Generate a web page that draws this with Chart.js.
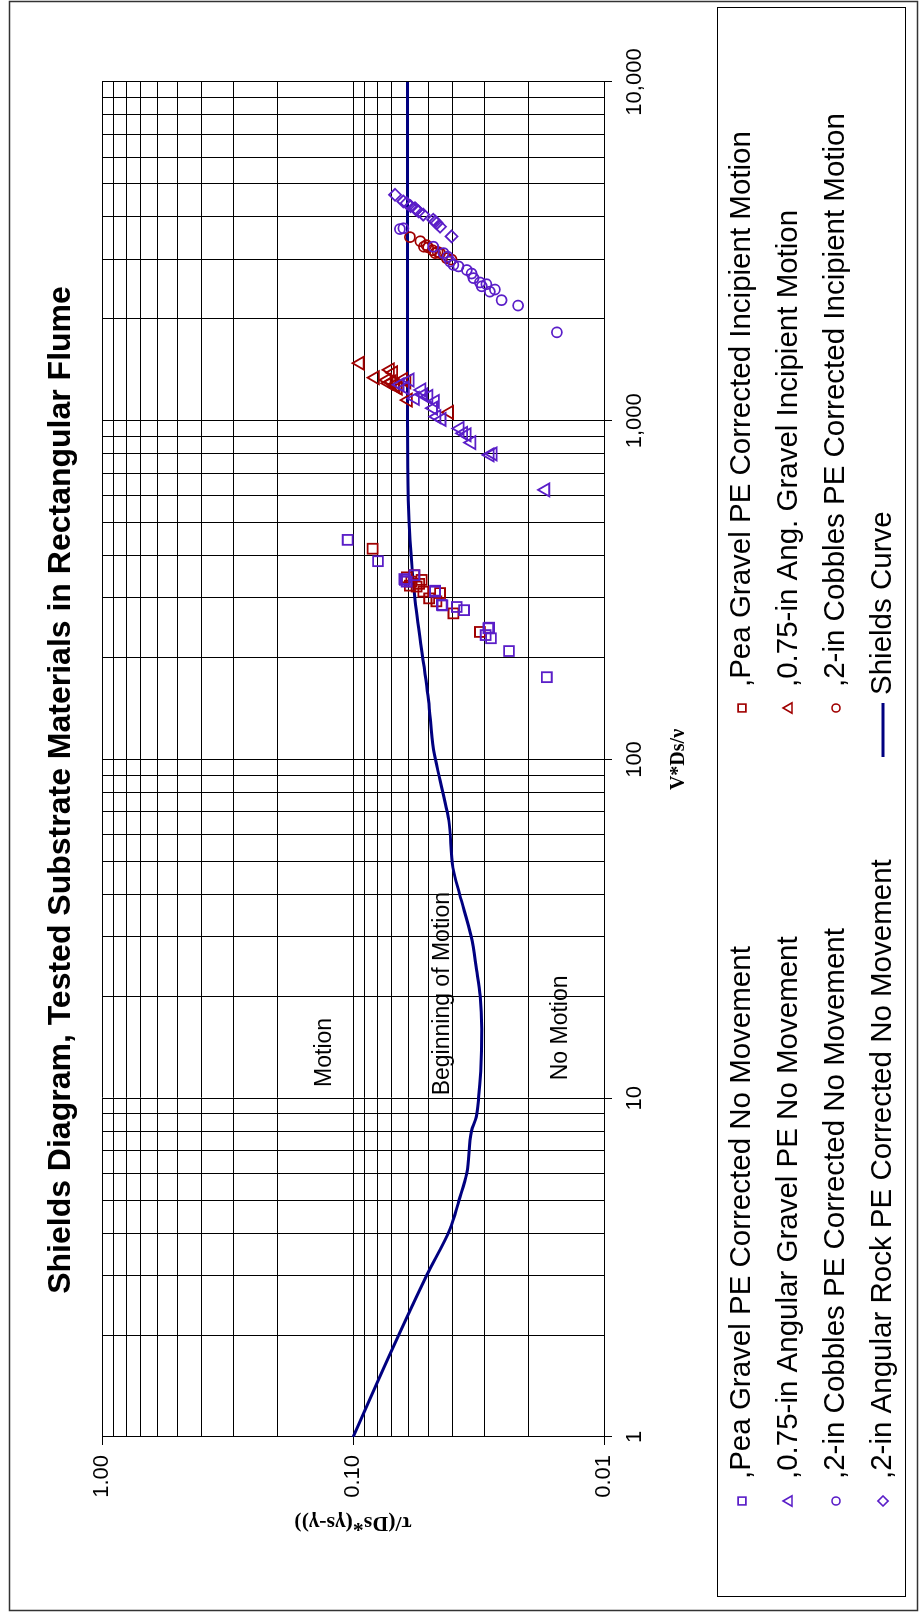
<!DOCTYPE html>
<html><head><meta charset="utf-8">
<script src="https://cdn.jsdelivr.net/npm/chart.js@4/dist/chart.umd.min.js"></script>
<style>
html,body{margin:0;padding:0;background:#fff;overflow:hidden;width:919px;height:1613px;}
#wrap{position:absolute;left:0;top:0;width:1613px;height:919px;transform-origin:0 0;transform:translate(0,1613px) rotate(-90deg);background:#fff;}
canvas{display:block;}
</style></head><body>
<div id="wrap"><canvas id="c" width="1613" height="919"></canvas></div>
<script>
// ---------- data (V*Ds/nu , tau/(Ds*(gs-g))) ----------
const peaNoMoveV   = [445, 385, 341, 339, 335, 350, 315, 313, 286, 285, 282, 276, 245, 244, 233, 228, 209, 175];
const peaNoMoveTau = [0.105, 0.0795, 0.0625, 0.0621, 0.0611, 0.0570, 0.0471, 0.0471, 0.0443, 0.0440, 0.0386, 0.0361, 0.0287, 0.0289, 0.0296, 0.0282, 0.0239, 0.0169];

const angNoMoveV   = [1277, 1250, 1319, 1164, 1233, 1192, 1180, 1140, 1089, 1028, 1009, 949, 918, 909, 862, 793, 798, 625];
const angNoMoveTau = [0.0650, 0.0620, 0.0594, 0.0566, 0.0533, 0.0525, 0.0500, 0.0471, 0.0479, 0.0464, 0.0443, 0.0375, 0.0363, 0.0352, 0.0337, 0.0285, 0.0277, 0.0171];

const cobNoMoveV   = [3680, 3700, 3264, 3125, 3050, 2950, 2885, 2855, 2786, 2720, 2637, 2560, 2494, 2530, 2405, 2440, 2270, 2188, 1824];
const cobNoMoveTau = [0.0650, 0.0630, 0.0479, 0.0436, 0.0420, 0.0410, 0.0398, 0.0380, 0.0352, 0.0337, 0.0331, 0.0312, 0.0307, 0.0294, 0.0285, 0.0272, 0.0256, 0.0220, 0.0154];

const rockNoMoveV   = [4645, 4440, 4390, 4300, 4240, 4200, 4150, 4060, 3920, 3870, 3830, 3740, 3500];
const rockNoMoveTau = [0.0680, 0.0630, 0.0611, 0.0590, 0.0566, 0.0560, 0.0548, 0.0525, 0.0479, 0.0470, 0.0464, 0.0450, 0.0405];

const peaMotionV   = [419, 350, 345, 335, 330, 326, 324, 339, 313, 299, 310, 293, 270, 238];
const peaMotionTau = [0.0835, 0.0569, 0.0610, 0.0586, 0.0545, 0.0594, 0.0558, 0.0533, 0.0525, 0.0497, 0.0450, 0.0465, 0.0398, 0.0312];

const angMotionV   = [1479, 1340, 1413, 1386, 1319, 1303, 1290, 1277, 1260, 1248, 1325, 1303, 1151, 1059];
const angMotionTau = [0.0938, 0.0817, 0.0712, 0.0690, 0.0732, 0.0700, 0.0720, 0.0680, 0.0675, 0.0661, 0.0630, 0.0611, 0.0603, 0.0413];

const cobMotionV   = [3484, 3388, 3300, 3264, 3250, 3186, 3150, 3125, 3125, 3021, 2990];
const cobMotionTau = [0.0593, 0.0539, 0.0510, 0.0522, 0.0502, 0.0482, 0.0460, 0.0471, 0.0450, 0.0424, 0.0405];

const shieldsV   = [1, 1.76, 3.0, 4.1, 5.0, 6.0, 8.0, 8.8, 10, 12, 16, 20, 24, 30, 40, 48, 66, 79, 87, 107, 150, 296, 445, 583, 1000, 10000];
const shieldsTau = [0.100, 0.0712, 0.0509, 0.0411, 0.0378, 0.0352, 0.0337, 0.0323, 0.0316, 0.0310, 0.0307, 0.0311, 0.0322, 0.0338, 0.0376, 0.0400, 0.0415, 0.0437, 0.0450, 0.0478, 0.0500, 0.0566, 0.0593, 0.0603, 0.0607, 0.0607];

// ---------- axes ----------
const xTickValues = [1,2,3,4,5,6,7,8,9,10,20,30,40,50,60,70,80,90,100,200,300,400,500,600,700,800,900,1000,2000,3000,4000,5000,6000,7000,8000,9000,10000];
const xTickLabels = {1:'1', 10:'10', 100:'100', 1000:'1,000', 10000:'10,000'};
const yTickValues = [0.01,0.02,0.03,0.04,0.05,0.06,0.07,0.08,0.09,0.1,0.2,0.3,0.4,0.5,0.6,0.7,0.8,0.9,1];
const yTickLabels = ['0.01','','','','','','','','','0.10','','','','','','','','','1.00'];

const titleText = 'Shields Diagram, Tested Substrate Materials in Rectangular Flume';
const xTitle = 'V*Ds/\u03BD';
const yTitle = '\u03C4/(Ds*(\u03B3s-\u03B3))';
const legendLeft = [',Pea Gravel PE Corrected No Movement', ',0.75-in Angular Gravel PE No Movement', ',2-in Cobbles PE Corrected No Movement', ',2-in Angular Rock PE Corrected No Movement'];
const legendRight = [',Pea Gravel PE Corrected Incipient Motion', ',0.75-in Ang. Gravel Incipient Motion', ',2-in Cobbles PE Corrected Incipient Motion', 'Shields Curve'];
const zoneLabels = ['Motion', 'Beginning of Motion', 'No Motion'];
const zoneAt = [[10.8, 0.122], [10.2, 0.0416], [11.3, 0.0140]];

// ---------- styling ----------
const PURPLE = '#5a1ec8', RED = '#a00000', NAVY = '#000080';
const SANS = "'Liberation Sans', Arial, sans-serif";
const SERIF = "'Liberation Serif', 'Times New Roman', serif";
const pts = (xs, ys) => xs.map((v, i) => ({x: v, y: ys[i]}));
const isPow10 = v => Math.abs(Math.log10(v) - Math.round(Math.log10(v))) < 1e-9;

function mk(label, xs, ys, style, color, r) {
  return {label, data: pts(xs, ys), pointStyle: style, pointRadius: r, pointHoverRadius: r,
          borderColor: color, backgroundColor: 'rgba(0,0,0,0)', pointBorderWidth: 1.8, showLine: false};
}

const datasets = [
  mk(legendLeft[0], peaNoMoveV, peaNoMoveTau, 'rect', PURPLE, 7),
  mk(legendLeft[1], angNoMoveV, angNoMoveTau, 'triangle', PURPLE, 7.5),
  mk(legendLeft[2], cobNoMoveV, cobNoMoveTau, 'circle', PURPLE, 5),
  mk(legendLeft[3], rockNoMoveV, rockNoMoveTau, 'rectRot', PURPLE, 6),
  mk(legendRight[0], peaMotionV, peaMotionTau, 'rect', RED, 7),
  mk(legendRight[1], angMotionV, angMotionTau, 'triangle', RED, 7.5),
  mk(legendRight[2], cobMotionV, cobMotionTau, 'circle', RED, 5),
  {label: legendRight[3], data: pts(shieldsV, shieldsTau), showLine: true, pointRadius: 0,
   borderColor: NAVY, borderWidth: 3, cubicInterpolationMode: 'monotone', fill: false}
];

function marker(ctx, style, x, y, r, color) {
  ctx.save(); ctx.strokeStyle = color; ctx.lineWidth = 1.6; ctx.beginPath();
  if (style === 'rect') { const s = r * Math.SQRT1_2; ctx.rect(x - s, y - s, 2 * s, 2 * s); }
  else if (style === 'circle') { ctx.arc(x, y, r, 0, Math.PI * 2); }
  else if (style === 'triangle') {
    for (let k = 0; k < 3; k++) { const a = k * 2 * Math.PI / 3; const px = x + Math.sin(a) * r, py = y - Math.cos(a) * r; k ? ctx.lineTo(px, py) : ctx.moveTo(px, py); }
    ctx.closePath();
  } else if (style === 'rectRot') { ctx.moveTo(x - r, y); ctx.lineTo(x, y - r); ctx.lineTo(x + r, y); ctx.lineTo(x, y + r); ctx.closePath(); }
  ctx.stroke(); ctx.restore();
}

const decor = {
  id: 'decor',
  beforeDraw(chart) {
    const c = chart.ctx;
    c.save(); c.fillStyle = '#fff'; c.fillRect(0, 0, chart.width, chart.height); c.restore();
  },
  beforeDatasetsDraw(chart) {
    const c = chart.ctx, xs = chart.scales.x, ys = chart.scales.y;
    c.save(); c.fillStyle = '#000'; c.font = '23px ' + SANS; c.textAlign = 'left'; c.textBaseline = 'alphabetic';
    zoneLabels.forEach((t, i) => c.fillText(t, xs.getPixelForValue(zoneAt[i][0]), ys.getPixelForValue(zoneAt[i][1])));
    c.restore();
  },
  afterDraw(chart) {
    const c = chart.ctx;
    c.save();
    // outer frame
    c.strokeStyle = '#333'; c.lineWidth = 1.5; c.strokeRect(2.5, 9.5, 1609, 908);
    // legend frame
    c.strokeStyle = '#000'; c.lineWidth = 1; c.strokeRect(16.5, 717.5, 1589, 188);
    // title
    c.fillStyle = '#000'; c.font = 'bold 32px ' + SANS; c.textAlign = 'center'; c.textBaseline = 'middle';
    c.fillText(titleText, 823, 61);
    // legend
    const rows = [742, 789, 836, 883];
    const leftStyles = ['rect', 'triangle', 'circle', 'rectRot'], leftR = [5.5, 6, 4, 5];
    c.font = '29.5px ' + SANS; c.textAlign = 'left'; c.textBaseline = 'middle';
    rows.forEach((yy, i) => {
      marker(c, leftStyles[i], 112, yy, leftR[i], PURPLE);
      c.fillStyle = '#000'; c.fillText(legendLeft[i], 134, yy);
      if (i < 3) marker(c, leftStyles[i], 905, yy, leftR[i], RED);
      else { c.strokeStyle = NAVY; c.lineWidth = 3; c.beginPath(); c.moveTo(856, yy); c.lineTo(910, yy); c.stroke(); }
      c.fillStyle = '#000'; c.fillText(legendRight[i], i < 3 ? 926 : 918, yy);
    });
    c.restore();
  }
};

const gridOpts = {
  color: '#000', lineWidth: 1, tickLength: 8, drawTicks: true,
  tickColor: ctx => (ctx.tick && isPow10(ctx.tick.value)) ? '#000' : 'rgba(0,0,0,0)'
};

new Chart(document.getElementById('c'), {
  type: 'scatter',
  data: {datasets},
  plugins: [decor],
  options: {
    responsive: false, animation: false, devicePixelRatio: 1,
    layout: {padding: {left: 26, right: 82, top: 102, bottom: 215}},
    plugins: {legend: {display: false}, tooltip: {enabled: false}, title: {display: false}},
    scales: {
      x: {
        type: 'logarithmic', min: 1, max: 10000, position: 'bottom',
        afterBuildTicks: s => { s.ticks = xTickValues.map(v => ({value: v})); },
        afterFit: s => { s.height = 100; },
        ticks: {autoSkip: false, maxRotation: 0, minRotation: 0, padding: 10, color: '#000',
                font: {family: SANS, size: 22}, callback: v => xTickLabels[v] || ''},
        grid: gridOpts,
        border: {color: '#000', width: 1},
        title: {display: true, text: xTitle, color: '#000', font: {family: SERIF, size: 20, weight: 'bold'}, padding: {top: 0, bottom: 13}}
      },
      y: {
        type: 'logarithmic', min: 0.01, max: 1, position: 'left',
        afterBuildTicks: s => { s.ticks = yTickValues.map(v => ({value: v})); },
        afterFit: s => { s.width = 150; },
        ticks: {autoSkip: false, padding: 10, color: '#000', font: {family: SANS, size: 22},
                callback: (v, i) => yTickLabels[i]},
        grid: gridOpts,
        border: {color: '#000', width: 1},
        title: {display: true, text: yTitle, color: '#000', font: {family: SERIF, size: 22, weight: 'bold'}, padding: {top: 51, bottom: 0}}
      }
    }
  }
});
</script>
</body></html>
